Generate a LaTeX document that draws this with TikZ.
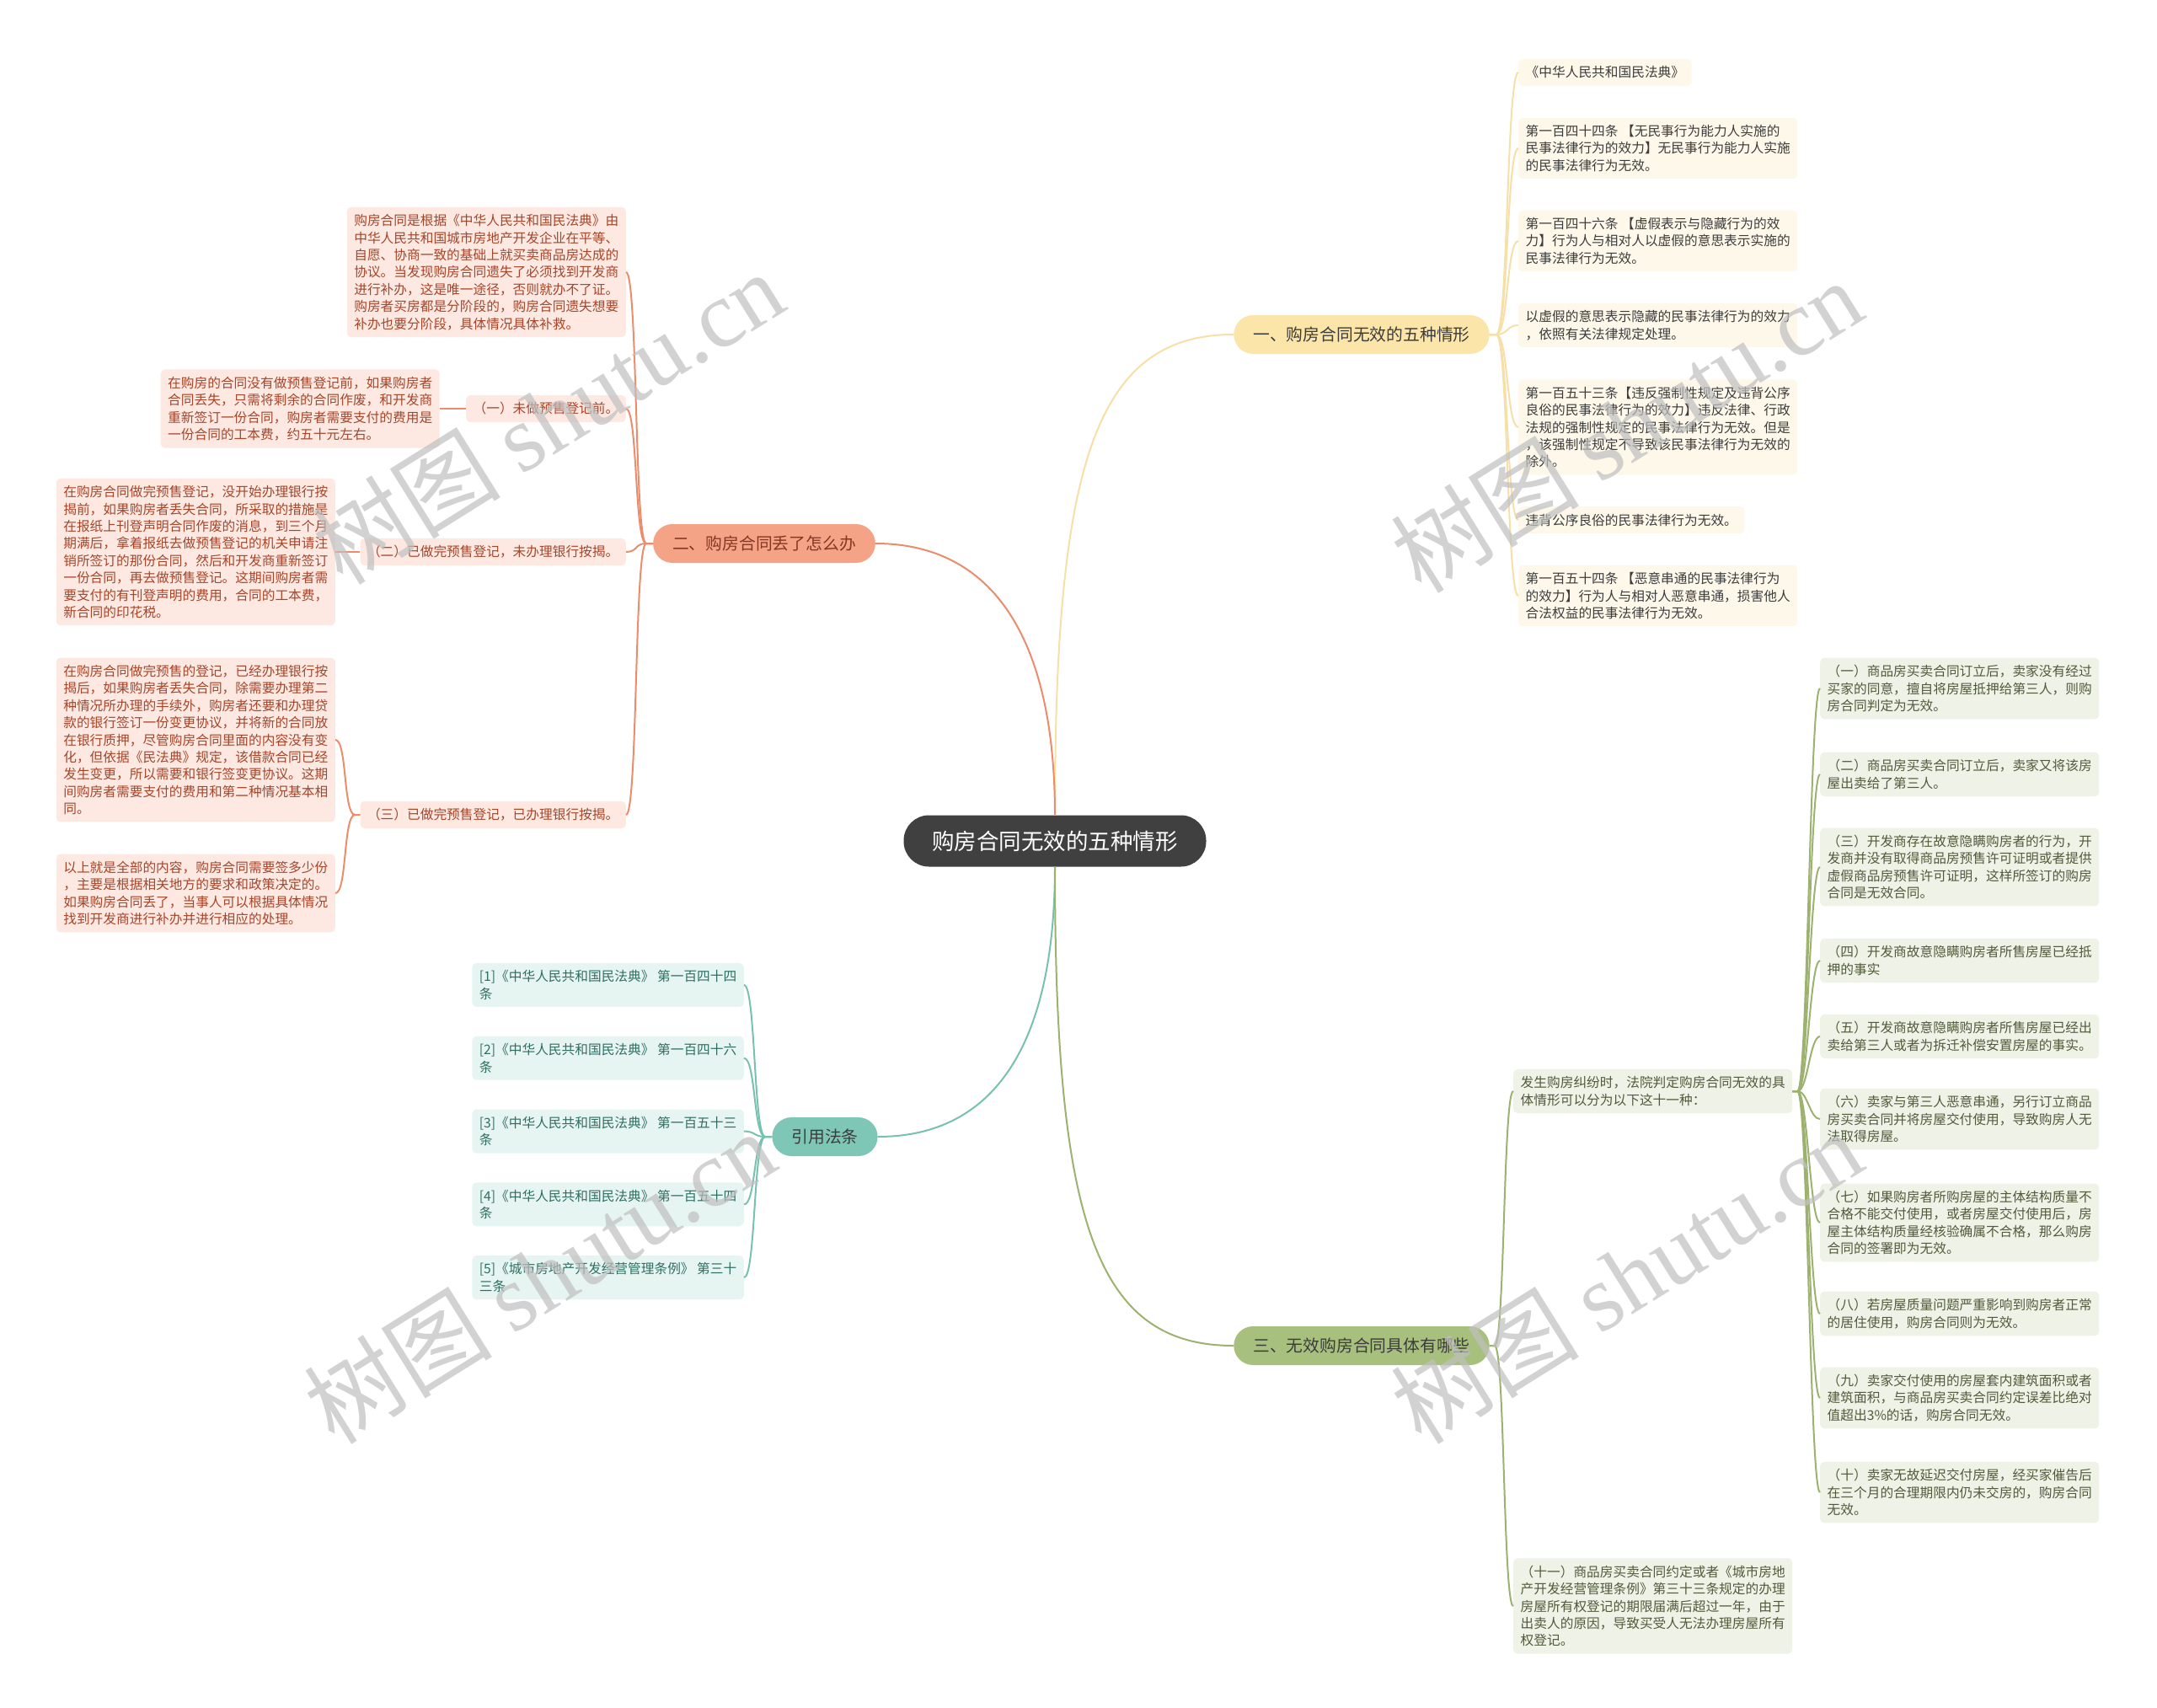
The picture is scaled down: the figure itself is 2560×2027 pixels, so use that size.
\documentclass[tikz,border=0pt]{standalone}
\usepackage{fontspec}
\setmainfont{Noto Sans CJK SC}
\newfontfamily\marcaserif{Liberation Serif}
\usetikzlibrary{positioning}
\definecolor{raizBg}{HTML}{404040}
\definecolor{textoOsc}{HTML}{3C3C3C}
\definecolor{amarLinea}{HTML}{F7E0A8}
\definecolor{amarBg}{HTML}{FCE5A9}
\definecolor{amarHojaBg}{HTML}{FEF8EA}
\definecolor{salmonLinea}{HTML}{EB8D6D}
\definecolor{salmonBg}{HTML}{F5A386}
\definecolor{salmonHojaBg}{HTML}{FDE9E2}
\definecolor{salmonTexto}{HTML}{A5452A}
\definecolor{tealLinea}{HTML}{78C1B1}
\definecolor{tealBg}{HTML}{7EC6B6}
\definecolor{tealHojaBg}{HTML}{E6F5F1}
\definecolor{tealTexto}{HTML}{2F6E62}
\definecolor{olivaLinea}{HTML}{9DB26F}
\definecolor{olivaBg}{HTML}{A8C07E}
\definecolor{olivaHojaBg}{HTML}{EEF2E7}
\definecolor{olivaTexto}{HTML}{505B3B}
\tikzset{
  raiz/.style={fill=raizBg, text=white, rounded corners=30pt, minimum height=61pt, minimum width=359pt, font=\fontsize{26.5}{30}\selectfont},
  rama/.style={fill=#1, rounded corners=23pt, minimum height=46pt, inner xsep=23pt, font=\fontsize{19.8}{24}\selectfont},
  hoja/.style={fill=#1, rounded corners=5pt, align=left, inner xsep=8.5pt, inner ysep=8.5pt, font=\fontsize{15.7}{20.4}\selectfont},
  conector/.style={line width=2pt, draw=#1},
  marca/.style={text=black!25, opacity=0.7, rotate=32, font=\fontsize{112}{112}\selectfont},
}

\begin{document}
\begin{tikzpicture}[x=1pt, y=-1pt]
\fill[white] (0,0) rectangle (2560,2027);
\useasboundingbox (0,0) rectangle (2560,2027);

% Centro
\node[raiz] (raiz) at (1252,998) {购房合同无效的五种情形};

% Rama 1
\node[rama=amarBg, text=textoOsc] (r1) at (1616,397) {一、购房合同无效的五种情形};
\node[hoja=amarHojaBg, text=textoOsc, anchor=west] (c1) at (1802,86) {《中华人民共和国民法典》};
\node[hoja=amarHojaBg, text=textoOsc, anchor=west] (c2) at (1802,176) {第一百四十四条 【无民事行为能力人实施的\\民事法律行为的效力】无民事行为能力人实施\\的民事法律行为无效。};
\node[hoja=amarHojaBg, text=textoOsc, anchor=west] (c3) at (1802,286) {第一百四十六条 【虚假表示与隐藏行为的效\\力】行为人与相对人以虚假的意思表示实施的\\民事法律行为无效。};
\node[hoja=amarHojaBg, text=textoOsc, anchor=west] (c4) at (1802,386) {以虚假的意思表示隐藏的民事法律行为的效力\\，依照有关法律规定处理。};
\node[hoja=amarHojaBg, text=textoOsc, anchor=west] (c5) at (1802,507) {第一百五十三条【违反强制性规定及违背公序\\良俗的民事法律行为的效力】违反法律、行政\\法规的强制性规定的民事法律行为无效。但是\\，该强制性规定不导致该民事法律行为无效的\\除外。};
\node[hoja=amarHojaBg, text=textoOsc, anchor=west] (c6) at (1802,617) {违背公序良俗的民事法律行为无效。};
\node[hoja=amarHojaBg, text=textoOsc, anchor=west] (c7) at (1802,707) {第一百五十四条 【恶意串通的民事法律行为\\的效力】行为人与相对人恶意串通，损害他人\\合法权益的民事法律行为无效。};

% Rama 2
\node[rama=salmonBg, text=salmonTexto!80!black] (r2) at (907,645) {二、购房合同丢了怎么办};
\node[hoja=salmonHojaBg, text=salmonTexto, anchor=east] (p0) at (743,323) {购房合同是根据《中华人民共和国民法典》由\\中华人民共和国城市房地产开发企业在平等、\\自愿、协商一致的基础上就买卖商品房达成的\\协议。当发现购房合同遗失了必须找到开发商\\进行补办，这是唯一途径，否则就办不了证。\\购房者买房都是分阶段的，购房合同遗失想要\\补办也要分阶段，具体情况具体补救。};
\node[hoja=salmonHojaBg, text=salmonTexto, anchor=east] (s1) at (743,485) {（一）未做预售登记前。};
\node[hoja=salmonHojaBg, text=salmonTexto, left=31pt of s1] (s1d) {在购房的合同没有做预售登记前，如果购房者\\合同丢失，只需将剩余的合同作废，和开发商\\重新签订一份合同，购房者需要支付的费用是\\一份合同的工本费，约五十元左右。};
\node[hoja=salmonHojaBg, text=salmonTexto, anchor=east] (s2) at (743,655) {（二）已做完预售登记，未办理银行按揭。};
\node[hoja=salmonHojaBg, text=salmonTexto, anchor=east] (s2d) at (398,655) {在购房合同做完预售登记，没开始办理银行按\\揭前，如果购房者丢失合同，所采取的措施是\\在报纸上刊登声明合同作废的消息，到三个月\\期满后，拿着报纸去做预售登记的机关申请注\\销所签订的那份合同，然后和开发商重新签订\\一份合同，再去做预售登记。这期间购房者需\\要支付的有刊登声明的费用，合同的工本费，\\新合同的印花税。};
\node[hoja=salmonHojaBg, text=salmonTexto, anchor=east] (s3) at (743,967) {（三）已做完预售登记，已办理银行按揭。};
\node[hoja=salmonHojaBg, text=salmonTexto, anchor=east] (s3d1) at (398,878) {在购房合同做完预售的登记，已经办理银行按\\揭后，如果购房者丢失合同，除需要办理第二\\种情况所办理的手续外，购房者还要和办理贷\\款的银行签订一份变更协议，并将新的合同放\\在银行质押，尽管购房合同里面的内容没有变\\化，但依据《民法典》规定，该借款合同已经\\发生变更，所以需要和银行签变更协议。这期\\间购房者需要支付的费用和第二种情况基本相\\同。};
\node[hoja=salmonHojaBg, text=salmonTexto, anchor=east] (s3d2) at (398,1060) {以上就是全部的内容，购房合同需要签多少份\\，主要是根据相关地方的要求和政策决定的。\\如果购房合同丢了，当事人可以根据具体情况\\找到开发商进行补办并进行相应的处理。};

% Referencias
\node[rama=tealBg, text=textoOsc] (ref) at (979,1349) {引用法条};
\node[hoja=tealHojaBg, text=tealTexto, anchor=east] (ref1) at (883,1169) {[1]《中华人民共和国民法典》 第一百四十四\\条};
\node[hoja=tealHojaBg, text=tealTexto, below=34.5pt of ref1.south east, anchor=north east] (ref2) {[2]《中华人民共和国民法典》 第一百四十六\\条};
\node[hoja=tealHojaBg, text=tealTexto, below=34.5pt of ref2.south east, anchor=north east] (ref3) {[3]《中华人民共和国民法典》 第一百五十三\\条};
\node[hoja=tealHojaBg, text=tealTexto, below=34.5pt of ref3.south east, anchor=north east] (ref4) {[4]《中华人民共和国民法典》 第一百五十四\\条};
\node[hoja=tealHojaBg, text=tealTexto, below=34.5pt of ref4.south east, anchor=north east] (ref5) {[5]《城市房地产开发经营管理条例》 第三十\\三条};

% Rama 3
\node[rama=olivaBg, text=textoOsc] (r3) at (1616,1597) {三、无效购房合同具体有哪些};
\node[hoja=olivaHojaBg, text=olivaTexto, anchor=west] (g0) at (1796,1295) {发生购房纠纷时，法院判定购房合同无效的具\\体情形可以分为以下这十一种：};
\node[hoja=olivaHojaBg, text=olivaTexto, anchor=west] (g11) at (1796,1906) {（十一）商品房买卖合同约定或者《城市房地\\产开发经营管理条例》第三十三条规定的办理\\房屋所有权登记的期限届满后超过一年，由于\\出卖人的原因，导致买受人无法办理房屋所有\\权登记。};
\node[hoja=olivaHojaBg, text=olivaTexto, anchor=west] (h1) at (2160,817) {（一）商品房买卖合同订立后，卖家没有经过\\买家的同意，擅自将房屋抵押给第三人，则购\\房合同判定为无效。};
\node[hoja=olivaHojaBg, text=olivaTexto, anchor=west] (h2) at (2160,919) {（二）商品房买卖合同订立后，卖家又将该房\\屋出卖给了第三人。};
\node[hoja=olivaHojaBg, text=olivaTexto, anchor=west] (h3) at (2160,1029) {（三）开发商存在故意隐瞒购房者的行为，开\\发商并没有取得商品房预售许可证明或者提供\\虚假商品房预售许可证明，这样所签订的购房\\合同是无效合同。};
\node[hoja=olivaHojaBg, text=olivaTexto, anchor=west] (h4) at (2160,1140) {（四）开发商故意隐瞒购房者所售房屋已经抵\\押的事实};
\node[hoja=olivaHojaBg, text=olivaTexto, anchor=west] (h5) at (2160,1230) {（五）开发商故意隐瞒购房者所售房屋已经出\\卖给第三人或者为拆迁补偿安置房屋的事实。};
\node[hoja=olivaHojaBg, text=olivaTexto, anchor=west] (h6) at (2160,1328) {（六）卖家与第三人恶意串通，另行订立商品\\房买卖合同并将房屋交付使用，导致购房人无\\法取得房屋。};
\node[hoja=olivaHojaBg, text=olivaTexto, anchor=west] (h7) at (2160,1451) {（七）如果购房者所购房屋的主体结构质量不\\合格不能交付使用，或者房屋交付使用后，房\\屋主体结构质量经核验确属不合格，那么购房\\合同的签署即为无效。};
\node[hoja=olivaHojaBg, text=olivaTexto, anchor=west] (h8) at (2160,1559) {（八）若房屋质量问题严重影响到购房者正常\\的居住使用，购房合同则为无效。};
\node[hoja=olivaHojaBg, text=olivaTexto, anchor=west] (h9) at (2160,1659) {（九）卖家交付使用的房屋套内建筑面积或者\\建筑面积，与商品房买卖合同约定误差比绝对\\值超出3\%的话，购房合同无效。};
\node[hoja=olivaHojaBg, text=olivaTexto, anchor=west] (h10) at (2160,1771) {（十）卖家无故延迟交付房屋，经买家催告后\\在三个月的合理期限内仍未交房的，购房合同\\无效。};

% Conectores del centro
\draw[conector=amarLinea] (raiz.north) .. controls (1252,550) and (1300,397) .. (r1.west);
\draw[conector=salmonLinea] (raiz.north) .. controls (1252,760) and (1180,645) .. (r2.east);
\draw[conector=tealLinea] (raiz.south) .. controls (1252,1240) and (1180,1349) .. (ref.east);
\draw[conector=olivaLinea] (raiz.south) .. controls (1252,1450) and (1300,1597) .. (r3.west);

% Conectores de las ramas
\foreach \h in {c1,c2,c3,c4,c5,c6,c7}
  \draw[conector=amarLinea] (r1.east) -- ++(8,0) .. controls +(14,0) and +(-14,0) .. (\h.west);
\foreach \h in {p0,s1,s2,s3}
  \draw[conector=salmonLinea] (r2.west) -- ++(-8,0) .. controls +(-14,0) and +(14,0) .. (\h.east);
\draw[conector=salmonLinea] (s1.west) -- (s1d.east);
\draw[conector=salmonLinea] (s2.west) -- (s2d.east);
\foreach \h in {s3d1,s3d2}
  \draw[conector=salmonLinea] (s3.west) -- ++(-6,0) .. controls +(-14,0) and +(14,0) .. (\h.east);
\foreach \h in {ref1,ref2,ref3,ref4,ref5}
  \draw[conector=tealLinea] (ref.west) -- ++(-8,0) .. controls +(-14,0) and +(14,0) .. (\h.east);
\foreach \h in {g0,g11}
  \draw[conector=olivaLinea] (r3.east) -- ++(6,0) .. controls +(12,0) and +(-12,0) .. (\h.west);
\foreach \h in {h1,h2,h3,h4,h5,h6,h7,h8,h9,h10}
  \draw[conector=olivaLinea] (g0.east) -- ++(6,0) .. controls +(12,0) and +(-12,0) .. (\h.west);

% Marcas de agua
\node[marca] (m1) at (650,495) {树图 {\marcaserif shutu.cn}};
\node[marca] (m2) at (1930,505) {树图 {\marcaserif shutu.cn}};
\node[marca] (m3) at (640,1515) {树图 {\marcaserif shutu.cn}};
\node[marca] (m4) at (1930,1515) {树图 {\marcaserif shutu.cn}};
\end{tikzpicture}
\end{document}
